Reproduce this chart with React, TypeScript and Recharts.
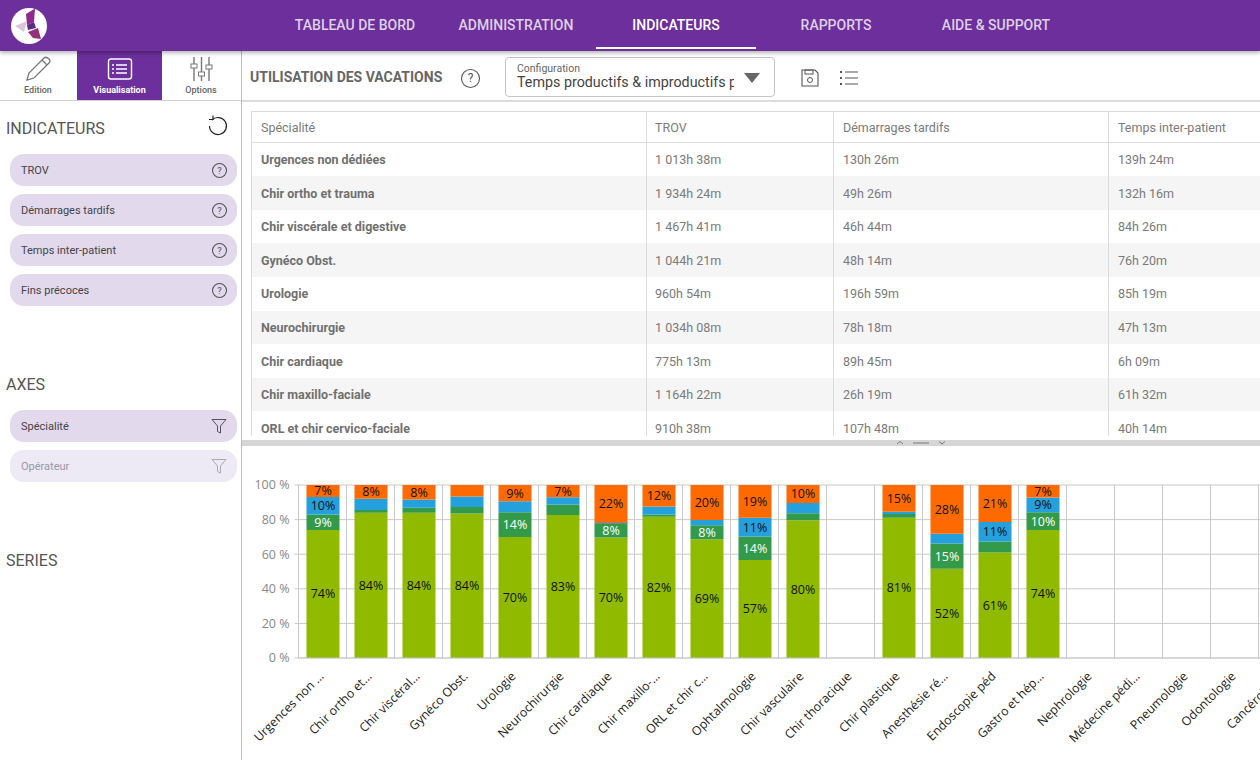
import { BarChart, Bar, XAxis, YAxis, CartesianGrid, LabelList } from 'recharts';

const navItems = ['TABLEAU DE BORD', 'ADMINISTRATION', 'INDICATEURS', 'RAPPORTS', 'AIDE & SUPPORT'];
const navCenters = [355, 516, 676, 836, 996];

const indicators = ['TROV', 'Démarrages tardifs', 'Temps inter-patient', 'Fins précoces'];

const tableHeaders = ['Spécialité', 'TROV', 'Démarrages tardifs', 'Temps inter-patient'];
const tableSpecialties = [
  'Urgences non dédiées',
  'Chir ortho et trauma',
  'Chir viscérale et digestive',
  'Gynéco Obst.',
  'Urologie',
  'Neurochirurgie',
  'Chir cardiaque',
  'Chir maxillo-faciale',
  'ORL et chir cervico-faciale',
];
const tableTrov = ['1 013h 38m', '1 934h 24m', '1 467h 41m', '1 044h 21m', '960h 54m', '1 034h 08m', '775h 13m', '1 164h 22m', '910h 38m'];
const tableLate = ['130h 26m', '49h 26m', '46h 44m', '48h 14m', '196h 59m', '78h 18m', '89h 45m', '26h 19m', '107h 48m'];
const tableInter = ['139h 24m', '132h 16m', '84h 26m', '76h 20m', '85h 19m', '47h 13m', '6h 09m', '61h 32m', '40h 14m'];

// le dernier libellé vide sert à prolonger la grille au-delà du bord de la fenêtre
const categories = [
  'Urgences non ...', 'Chir ortho et...', 'Chir viscéral...', 'Gynéco Obst.', 'Urologie',
  'Neurochirurgie', 'Chir cardiaque', 'Chir maxillo-...', 'ORL et chir c...', 'Ophtalmologie',
  'Chir vasculaire', 'Chir thoracique', 'Chir plastique', 'Anesthésie ré...', 'Endoscopie péd',
  'Gastro et hép...', 'Nephrologie', 'Médecine pédi...', 'Pneumologie', 'Odontologie',
  'Cancérologie', '',
];
const trov = [74, 84, 84, 83.5, 70, 82.6, 69.6, 81.6, 68.7, 56.6, 79.6, null, 81, 51.6, 61, 74];
const demarrages = [9, 1.5, 2.8, 3.8, 14.2, 6.1, 7.9, 1.4, 8, 13.6, 4, null, 2.3, 14.6, 6.4, 10.2];
const interPatient = [10, 6.5, 4.8, 6.1, 6.4, 4.2, 0.6, 4.6, 3, 10.9, 6, null, 1.3, 5.6, 11.2, 8.6];
const finsPrecoces = [7, 8, 8.4, 6.6, 9.4, 7.1, 21.9, 12.4, 20.3, 18.9, 10.4, null, 15.4, 28.2, 21.4, 7.2];
const yTicks = [0, 20, 40, 60, 80, 100];

const chartData = categories.map((name, i) => ({
  name,
  trov: trov[i] ?? null,
  demarrages: demarrages[i] ?? null,
  interPatient: interPatient[i] ?? null,
  finsPrecoces: finsPrecoces[i] ?? null,
}));

const FONT = 'Roboto, sans-serif';
const CHART_FONT = '"Open Sans", sans-serif';
const PURPLE = '#6c2f9c';

function formatLabel(value: any) {
  if (value == null || value < 7) return '';
  return `${Math.round(value)}%`;
}

function AngledTick({ x, y, payload }: any) {
  return (
    <text
      x={x + 2}
      y={y + 11}
      transform={`rotate(-45 ${x + 2} ${y + 11})`}
      textAnchor="end"
      fontSize={12.3}
      fontFamily={CHART_FONT}
      fill="#222"
    >
      {payload.value}
    </text>
  );
}

function Abs({ x, y, w, h, style, children }: any) {
  return (
    <div style={{ position: 'absolute', left: x, top: y, width: w, height: h, ...style }}>{children}</div>
  );
}

function Txt({ x, cy, size, color, weight, family, children, center }: any) {
  return (
    <div
      style={{
        position: 'absolute',
        left: x,
        top: cy - 12,
        height: 24,
        lineHeight: '24px',
        fontSize: size,
        color,
        fontWeight: weight ?? 400,
        fontFamily: family ?? FONT,
        whiteSpace: 'nowrap',
        transform: center ? 'translateX(-50%)' : undefined,
      }}
    >
      {children}
    </div>
  );
}

function Help({ x, y, r = 7.5, color = '#555' }: any) {
  return (
    <svg style={{ position: 'absolute', left: x - r - 1, top: y - r - 1 }} width={2 * r + 2} height={2 * r + 2}>
      <circle cx={r + 1} cy={r + 1} r={r - 0.5} fill="none" stroke={color} strokeWidth={1.1} />
      <text x={r + 1} y={r + 1 + r * 0.42} textAnchor="middle" fontSize={r * 1.25} fontFamily={FONT} fill={color}>
        ?
      </text>
    </svg>
  );
}

function Funnel({ x, y, color }: any) {
  return (
    <svg style={{ position: 'absolute', left: x - 8, top: y - 8 }} width={16} height={16}>
      <path d="M1 1.5 H15 L9.5 8 V15 L6.5 13.5 V8 Z" fill="none" stroke={color} strokeWidth={1} />
    </svg>
  );
}

function Pill({ y, label, light, icon }: any) {
  return (
    <Abs x={10} y={y} w={227} h={32} style={{ background: light ? '#eeeaf5' : '#e2d9ec', borderRadius: 14 }}>
      <Txt x={11} cy={17} size={11} color={light ? '#9b97a3' : '#444'}>
        {label}
      </Txt>
      {icon === 'funnel' ? (
        <Funnel x={208.5} y={16} color={light ? '#aaa' : '#555'} />
      ) : (
        <Help x={209} y={16} />
      )}
    </Abs>
  );
}

function Logo() {
  return (
    <svg style={{ position: 'absolute', left: 10, top: 7 }} width={38} height={38}>
      <circle cx={19} cy={19} r={18} fill="#fff" />
      <path d="M25 1.500 L16 7 L17 18 L24 15 Z" fill="#8e2a8e" />
      <path d="M17 18 L24 15 L26 21 L18 23 Z" fill="#5b2a86" />
      <path d="M18 25 L28 21 L31 32 L23 31 Z" fill="#94317f" />
      <path d="M5 19 L17 14 L14 25 Z" fill="#dcc4dc" />
    </svg>
  );
}

function Toolbar() {
  return (
    <>
      <Abs x={77} y={51} w={85} h={50} style={{ background: PURPLE }} />
      <svg style={{ position: 'absolute', left: 0, top: 51 }} width={241} height={34}>
        <path d="M27 29 L29 22 L44 7 Q46 5 49 8 Q51 10 49 12 L34 27 Z M42 9 L47 14" fill="none" stroke="#777" strokeWidth={1.3} />
        <rect x={108.5} y={8} width={23} height={20} rx={2.5} fill="none" stroke="#fff" strokeWidth={1.4} />
        <path d="M116 14 H127 M116 18 H127 M116 22 H127" stroke="#fff" strokeWidth={1.5} />
        <path d="M112 14 H114 M112 18 H114 M112 22 H114" stroke="#fff" strokeWidth={1.5} />
        <path d="M194 6 V30 M201.500 6 V30 M209 6 V30" stroke="#777" strokeWidth={1.4} />
        <rect x={191} y={13} width={6} height={4} fill="#fff" stroke="#777" />
        <rect x={198.5} y={21} width={6} height={4} fill="#fff" stroke="#777" />
        <rect x={206} y={14} width={6} height={4} fill="#fff" stroke="#777" />
      </svg>
      <Txt x={38} cy={90} size={9} color="#666" weight={500} center>
        Edition
      </Txt>
      <Txt x={119.500} cy={90} size={9} color="#fff" weight={700} center>
        Visualisation
      </Txt>
      <Txt x={201} cy={90} size={9} color="#666" weight={500} center>
        Options
      </Txt>
    </>
  );
}

function Sidebar() {
  return (
    <>
      <Txt x={6} cy={129} size={16} color="#555">
        INDICATEURS
      </Txt>
      <svg style={{ position: 'absolute', left: 206, top: 114 }} width={24} height={24}>
        <path d="M6 6 A8.500 8.500 0 1 1 3.500 12" fill="none" stroke="#222" strokeWidth={1.2} />
        <path d="M3 5.500 H7 V1.500" fill="none" stroke="#222" strokeWidth={1.2} />
      </svg>
      {indicators.map((label, i) => (
        <Pill key={label} y={154 + i * 40} label={label} />
      ))}
      <Txt x={6} cy={385} size={16} color="#555">
        AXES
      </Txt>
      <Pill y={410} label="Spécialité" icon="funnel" />
      <Pill y={450} label="Opérateur" icon="funnel" light />
      <Txt x={6} cy={561} size={16} color="#555">
        SERIES
      </Txt>
      <Abs x={241} y={51} w={1} h={709} style={{ background: '#bdbdbd' }} />
      <Abs x={0} y={100} w={241} h={1} style={{ background: '#d0d0d0' }} />
    </>
  );
}

function ConfigBar() {
  return (
    <>
      <Txt x={250} cy={77} size={14} color="#666" weight={700}>
        UTILISATION DES VACATIONS
      </Txt>
      <Help x={470} y={78} r={9.5} />
      <Abs x={505} y={57} w={270} h={40} style={{ border: '1px solid #c4c4c4', borderRadius: 4, boxSizing: 'border-box' }} />
      <Txt x={517} cy={69} size={10.5} color="#666">
        Configuration
      </Txt>
      <Abs x={517} y={70} w={217} h={24} style={{ overflow: 'hidden' }}>
        <Txt x={0} cy={11.5} size={14.3} color="#444">
          Temps productifs &amp; improductifs par spécialité
        </Txt>
      </Abs>
      <svg style={{ position: 'absolute', left: 740, top: 70 }} width={24} height={16}>
        <path d="M4 3 H20 L12 13 Z" fill="#666" />
      </svg>
      <svg style={{ position: 'absolute', left: 800, top: 68 }} width={60} height={20}>
        <path d="M2 2 H15 L18 5 V18 H2 Z" fill="none" stroke="#555" strokeWidth={1.1} />
        <rect x={5} y={2} width={8} height={4} fill="none" stroke="#555" />
        <circle cx={10} cy={12} r={2.5} fill="none" stroke="#555" />
        <path d="M45 4 H58 M45 10 H58 M45 16 H58" stroke="#555" strokeWidth={1.1} />
        <path d="M40 4 H42 M40 10 H42 M40 16 H42" stroke="#555" strokeWidth={2} />
      </svg>
      <Abs x={242} y={100} w={1018} h={2} style={{ background: '#dcdcdc' }} />
    </>
  );
}

function DataTable() {
  const columns = [tableSpecialties, tableTrov, tableLate, tableInter];
  const colX = [251, 646, 833, 1108];
  const textX = [261, 655, 843, 1118];
  return (
    <Abs x={0} y={0} w={1260} h={436} style={{ overflow: 'hidden' }}>
      <Abs x={251} y={111} w={1009} h={1} style={{ background: '#dcdcdc' }} />
      <Abs x={251} y={142} w={1009} h={1} style={{ background: '#dcdcdc' }} />
      {tableSpecialties.map((_, row) =>
        row % 2 === 1 ? <Abs key={row} x={252} y={142.5 + row * 33.6} w={1008} h={33.6} style={{ background: '#f5f5f5' }} /> : null,
      )}
      {colX.map((x) => (
        <Abs key={x} x={x} y={111} w={1} h={325} style={{ background: '#dcdcdc' }} />
      ))}
      {tableHeaders.map((label, c) => (
        <Txt key={label} x={textX[c]} cy={127.5} size={12.5} color="#7a7a7a">
          {label}
        </Txt>
      ))}
      {columns.map((col, c) =>
        col.map((value, row) => (
          <Txt key={`${c}-${row}`} x={textX[c]} cy={160 + row * 33.6} size={12.5} color={c === 0 ? '#707070' : '#7a7a7a'} weight={c === 0 ? 700 : 400}>
            {value}
          </Txt>
        )),
      )}
    </Abs>
  );
}

function Splitter() {
  return (
    <>
      <Abs x={242} y={440} w={1018} h={6} style={{ background: '#d6d6d6' }} />
      <svg style={{ position: 'absolute', left: 890, top: 439 }} width={60} height={8}>
        <path d="M7 5 L10 2.500 L13 5 M49 2.500 L52 5 L55 2.500" fill="none" stroke="#777" />
        <path d="M23 4 H39" stroke="#777" />
      </svg>
    </>
  );
}

function StackedChart() {
  return (
    <Abs x={242} y={470} w={1018} h={290} style={{ overflow: 'hidden' }}>
      <BarChart
        width={1112.5}
        height={290}
        data={chartData}
        margin={{ top: 15, right: 0, left: 0, bottom: 0 }}
        barCategoryGap={0}
      >
        <CartesianGrid
          stroke="#c9c9c9"
          verticalCoordinatesGenerator={({ offset }: any) =>
            categories.map((_, i) => offset.left + (i * offset.width) / categories.length)
          }
        />
        <XAxis
          dataKey="name"
          interval={0}
          height={102}
          stroke="#c9c9c9"
          tickLine={false}
          tick={<AngledTick />}
        />
        <YAxis
          width={56.5}
          domain={[0, 100]}
          ticks={yTicks}
          allowDataOverflow
          tickFormatter={(v) => `${v} %`}
          tick={{ fontSize: 12.5, fill: '#888', fontFamily: CHART_FONT }}
          tickSize={4}
          tickMargin={5}
          stroke="#c9c9c9"
        />
        <Bar dataKey="trov" stackId="a" fill="#8fba00" barSize={33} isAnimationActive={false}>
          <LabelList dataKey="trov" position="center" formatter={formatLabel} fill="#111" fontSize={12.5} fontFamily={CHART_FONT} />
        </Bar>
        <Bar dataKey="demarrages" stackId="a" fill="#339a4a" barSize={33} isAnimationActive={false}>
          <LabelList dataKey="demarrages" position="center" formatter={formatLabel} fill="#fff" fontSize={12.5} fontFamily={CHART_FONT} />
        </Bar>
        <Bar dataKey="interPatient" stackId="a" fill="#24a0dc" barSize={33} isAnimationActive={false}>
          <LabelList dataKey="interPatient" position="center" formatter={formatLabel} fill="#111" fontSize={12.5} fontFamily={CHART_FONT} />
        </Bar>
        <Bar dataKey="finsPrecoces" stackId="a" fill="#ff6a00" barSize={33} isAnimationActive={false}>
          <LabelList dataKey="finsPrecoces" position="center" formatter={formatLabel} fill="#111" fontSize={12.5} fontFamily={CHART_FONT} />
        </Bar>
      </BarChart>
    </Abs>
  );
}

export default function App() {
  return (
    <div style={{ position: 'fixed', left: 0, top: 0, width: 1260, height: 760, overflow: 'hidden', background: '#fff', fontFamily: FONT }}>
      <Abs x={0} y={0} w={1260} h={51} style={{ background: PURPLE, boxShadow: '0 2px 4px rgba(0,0,0,0.3)', zIndex: 2 }}>
        <Logo />
        {navItems.map((label, i) => (
          <Txt key={label} x={navCenters[i]} cy={25} size={14} weight={500} color={i === 2 ? '#fff' : 'rgba(255,255,255,0.78)'} center>
            {label}
          </Txt>
        ))}
        <Abs x={596} y={47} w={160} h={2} style={{ background: '#fff' }} />
      </Abs>
      <Toolbar />
      <Sidebar />
      <ConfigBar />
      <DataTable />
      <Splitter />
      <StackedChart />
    </div>
  );
}
